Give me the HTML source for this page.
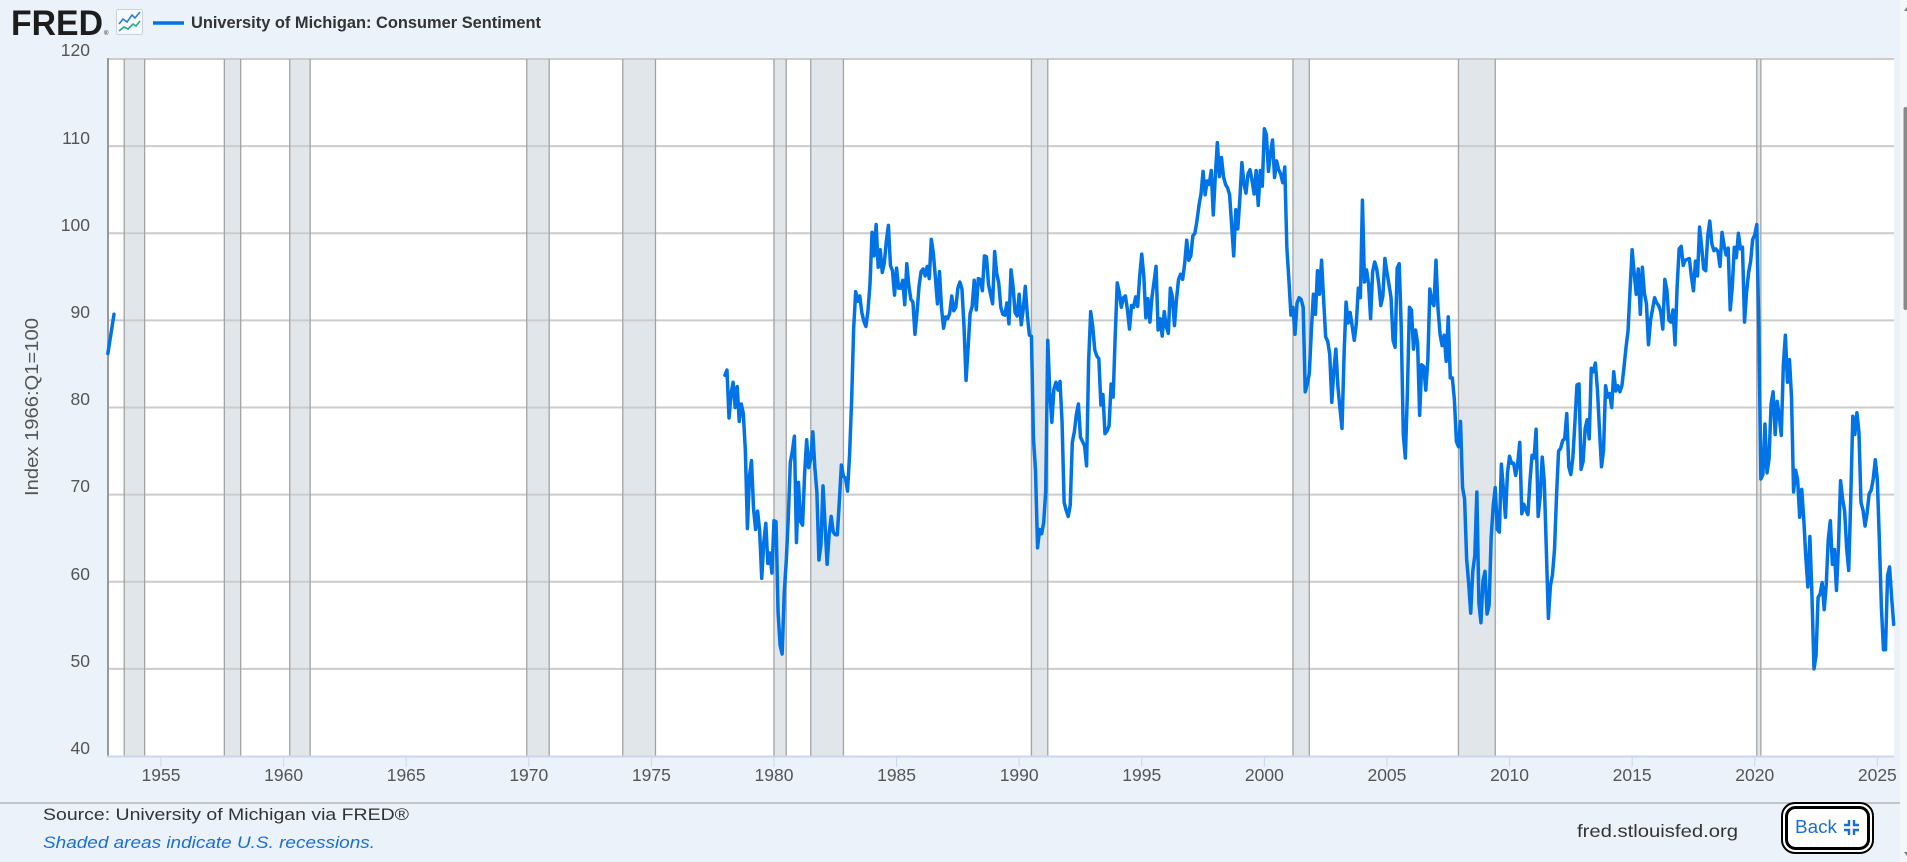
<!DOCTYPE html>
<html>
<head>
<meta charset="utf-8">
<style>
  html,body{margin:0;padding:0;background:#ebf2fa;}
  body{width:1907px;height:862px;overflow:hidden;font-family:"Liberation Sans",sans-serif;}
  svg{display:block;}
  .tk{font-family:"Liberation Sans",sans-serif;font-size:17.5px;fill:#555;}
</style>
</head>
<body>
<svg id="chart" width="1907" height="862" viewBox="0 0 1907 862" xmlns="http://www.w3.org/2000/svg">
  <rect x="0" y="0" width="1907" height="862" fill="#ebf2fa"/>

  <text x="11" y="35" font-family="Liberation Sans, sans-serif" font-weight="bold" font-size="35" fill="#1d1d1d" textLength="92" lengthAdjust="spacingAndGlyphs">FRED</text>
  <text x="104" y="35" font-family="Liberation Sans, sans-serif" font-size="6" fill="#1d1d1d">®</text>
  <rect x="116.5" y="9.5" width="26" height="25" rx="2" fill="#f7fafd" stroke="#c9d2dc" stroke-width="1"/>
  <polyline points="119,24 123,19 127,22 132,15 135,18 140,12" fill="none" stroke="#2a7de1" stroke-width="1.6"/>
  <polyline points="119,31 124,27 128,29 133,24 136,26 140,21" fill="none" stroke="#2aa88a" stroke-width="1.6"/>
  <line x1="153" y1="23" x2="184" y2="23" stroke="#0073e6" stroke-width="3.5"/>
  <text x="191" y="28" font-family="Liberation Sans, sans-serif" font-weight="bold" font-size="17" fill="#333" textLength="350" lengthAdjust="spacingAndGlyphs">University of Michigan: Consumer Sentiment</text>

  <rect x="108" y="59" width="1786" height="697" fill="#ffffff"/>
  <g id="bands"></g>
  <g id="grid" stroke="#cccccc" stroke-width="2"></g>
  <line x1="108" y1="58" x2="108" y2="757" stroke="#9a9a9a" stroke-width="2"/>
  <line x1="107" y1="756.5" x2="1894" y2="756.5" stroke="#ccd6eb" stroke-width="2"/>
  <g id="ticks"></g>
  <g id="series"></g>

  <g class="tk" text-anchor="end">
    <text x="90" y="56">120</text>
    <text x="90" y="144">110</text>
    <text x="90" y="231">100</text>
    <text x="90" y="318">90</text>
    <text x="90" y="405">80</text>
    <text x="90" y="492">70</text>
    <text x="90" y="580">60</text>
    <text x="90" y="667">50</text>
    <text x="90" y="754">40</text>
  </g>
  <text transform="translate(38,407) rotate(-90)" text-anchor="middle" font-family="Liberation Sans, sans-serif" font-size="18" fill="#555" textLength="178" lengthAdjust="spacingAndGlyphs">Index 1966:Q1=100</text>

  <g id="xlabels" class="tk" text-anchor="middle"></g>

  <line x1="0" y1="803" x2="1900" y2="803" stroke="#9a9a9a" stroke-width="1"/>
  <text x="43" y="820" font-family="Liberation Sans, sans-serif" font-size="17" fill="#333" textLength="366" lengthAdjust="spacingAndGlyphs">Source: University of Michigan via FRED®</text>
  <text x="43" y="848" font-family="Liberation Sans, sans-serif" font-style="italic" font-size="17" fill="#1a6fd1" textLength="332" lengthAdjust="spacingAndGlyphs">Shaded areas indicate U.S. recessions.</text>
  <text x="1577" y="837" font-family="Liberation Sans, sans-serif" font-size="17.5" fill="#333" textLength="161" lengthAdjust="spacingAndGlyphs">fred.stlouisfed.org</text>

  <rect x="1782" y="803" width="91" height="50" rx="13" fill="#ffffff" stroke="#000" stroke-width="2"/>
  <rect x="1786.5" y="807.5" width="82" height="41" rx="9" fill="#ffffff" stroke="#000" stroke-width="3"/>
  <text x="1795" y="833" font-family="Liberation Sans, sans-serif" font-size="18" fill="#1a6fd1" textLength="42" lengthAdjust="spacingAndGlyphs">Back</text>
  <g fill="none" stroke="#1a6fd1" stroke-width="2.4">
    <polyline points="1844,825 1849,825 1849,820"/>
    <polyline points="1854,820 1854,825 1859,825"/>
    <polyline points="1844,830 1849,830 1849,835"/>
    <polyline points="1854,835 1854,830 1859,830"/>
  </g>

  <rect x="1900" y="0" width="7" height="862" fill="#f4f7fa"/>
  <rect x="1903.5" y="107" width="4" height="203" rx="2" fill="#8a8a8a"/>
  <polygon points="1904,11 1907,7 1907,11" fill="#777"/>
  <polygon points="1904,852 1907,856 1907,852" fill="#777"/>
</svg>

<script>
(function(){
  var NS="http://www.w3.org/2000/svg";
  function X(t){return 161+(t-1955)*24.519;}
  function Y(v){return 59+(120-v)*8.7125;}
  function el(tag,attrs,parent){var e=document.createElementNS(NS,tag);for(var k in attrs)e.setAttribute(k,attrs[k]);parent.appendChild(e);return e;}

  var rec=[[1953.5,1954.333],[1957.583,1958.25],[1960.25,1961.083],[1969.917,1970.833],[1973.833,1975.167],[1980.0,1980.5],[1981.5,1982.833],[1990.5,1991.167],[2001.167,2001.833],[2007.917,2009.417],[2020.083,2020.25]];
  var bands=document.getElementById('bands');
  rec.forEach(function(r){
    var x1=X(r[0]),x2=X(r[1]);
    el('rect',{x:x1,y:59,width:x2-x1,height:697,fill:'#e1e6eb'},bands);
  });

  var grid=document.getElementById('grid');
  [120,110,100,90,80,70,60,50].forEach(function(v){
    el('line',{x1:108,y1:Y(v),x2:1894,y2:Y(v)},grid);
  });
  rec.forEach(function(r){
    [X(r[0]),X(r[1])].forEach(function(x){
      el('line',{x1:x,y1:59,x2:x,y2:756,stroke:'#a3a3a3','stroke-width':1.3},grid);
    });
  });

  var ticks=document.getElementById('ticks'),xl=document.getElementById('xlabels');
  for(var yr=1955;yr<=2025;yr+=5){
    var x=X(yr);
    el('line',{x1:x,y1:757,x2:x,y2:767,stroke:'#ccd6eb','stroke-width':1},ticks);
    var t=el('text',{x:x,y:781},xl);t.textContent=String(yr);
  }

  var d=[
  83.7,84.3,78.8,81.6,82.9,80.0,82.4,78.4,80.4,79.3,75.0,66.1,
  72.1,73.9,68.4,66.0,68.1,65.8,60.4,64.5,66.7,62.1,63.3,61.0,
  67.0,66.9,56.5,52.7,51.7,58.7,62.3,67.3,73.7,75.0,76.7,64.5,
  71.4,66.9,66.5,72.4,76.3,73.1,74.1,77.2,73.1,70.3,62.5,64.3,
  71.0,66.5,62.0,65.5,67.5,65.7,65.4,65.4,69.3,73.4,72.1,71.9,
  70.4,74.6,80.8,89.1,93.3,92.2,92.8,90.9,89.9,89.3,91.1,94.2,
  100.1,97.4,101.0,96.1,98.1,95.5,96.6,99.1,100.9,96.3,95.7,92.9,
  96.0,93.7,93.7,94.6,91.8,96.5,94.0,92.4,92.1,88.4,90.9,93.9,
  95.6,95.9,95.1,96.2,94.8,99.3,97.7,94.9,91.9,95.6,91.4,89.1,
  90.4,90.2,90.8,92.8,91.1,91.5,93.7,94.4,93.6,89.3,83.1,86.8,
  90.8,91.6,94.6,91.2,94.8,94.7,93.4,97.4,97.3,94.1,93.0,91.9,
  97.9,95.4,94.3,91.5,90.7,90.6,92.0,89.6,95.8,93.9,90.9,90.5,
  93.0,89.5,91.3,93.9,90.6,88.3,88.2,76.4,72.8,63.9,66.0,65.5,
  66.8,70.4,87.7,81.8,78.3,82.1,82.9,82.0,83.0,78.3,69.1,68.2,
  67.5,68.8,76.0,77.2,79.2,80.4,76.6,76.1,75.6,73.3,85.3,91.0,
  89.3,86.6,85.9,85.6,80.3,81.5,77.0,77.3,77.9,82.7,81.2,88.2,
  94.3,93.2,91.5,92.6,92.8,91.2,89.0,91.7,91.5,92.7,91.6,95.1,
  97.6,95.1,90.3,92.5,89.8,92.7,94.4,96.2,88.9,90.2,88.2,91.0,
  89.3,88.5,93.7,92.7,89.4,92.4,94.7,95.3,94.7,96.5,99.2,96.9,
  97.4,99.7,100.0,101.4,103.2,104.5,107.1,104.4,106.0,105.6,107.2,102.1,
  106.6,110.4,106.5,108.7,106.5,105.6,105.2,104.4,100.9,97.4,102.7,100.5,
  103.9,108.1,105.7,104.6,106.8,107.3,106.0,104.5,107.2,103.2,107.2,105.4,
  112.0,111.3,107.1,109.2,110.7,106.4,108.3,107.3,106.8,105.8,107.6,98.4,
  94.7,90.6,91.5,88.4,92.0,92.6,92.4,91.5,81.8,82.7,83.9,88.8,
  93.0,90.7,95.7,93.0,96.9,92.4,88.1,87.6,86.1,80.6,84.2,86.7,
  82.4,79.9,77.6,86.0,92.1,89.7,90.9,89.3,87.7,89.6,93.7,92.6,
  103.8,94.4,95.8,94.2,90.2,95.6,96.7,95.9,94.2,91.7,92.8,97.1,
  95.5,94.1,92.6,87.7,86.9,96.0,96.5,89.1,76.9,74.2,81.6,91.5,
  91.2,86.7,88.9,87.4,79.1,84.9,84.7,82.0,85.4,93.6,92.1,91.7,
  96.9,91.3,88.4,87.1,88.3,85.3,90.4,83.4,83.4,80.9,76.1,75.5,
  78.4,70.8,69.5,62.6,59.8,56.4,61.2,63.0,70.3,57.6,55.3,60.1,
  61.2,56.3,57.3,65.1,68.7,70.8,66.0,65.7,73.5,70.6,67.4,72.5,
  74.4,73.6,73.6,72.2,73.6,76.0,67.8,68.9,68.2,67.7,71.6,74.5,
  74.2,77.5,67.5,69.8,74.3,71.5,63.7,55.8,59.5,60.8,63.7,69.9,
  75.0,75.3,76.2,76.4,79.3,73.2,72.3,74.3,78.3,82.6,82.7,72.9,
  73.8,77.6,78.6,76.4,84.5,84.1,85.1,82.1,77.5,73.2,75.1,82.5,
  81.2,81.6,80.0,84.1,81.9,82.5,81.8,82.5,84.6,86.9,88.8,93.6,
  98.1,95.4,93.0,95.9,90.7,96.1,93.1,91.9,87.2,90.0,91.3,92.6,
  92.0,91.7,91.0,89.0,94.7,93.5,90.0,89.8,91.2,87.2,93.8,98.2,
  98.5,96.3,96.9,97.0,97.1,95.0,93.4,96.8,95.1,100.7,98.5,95.9,
  95.7,99.7,101.4,98.8,98.0,98.2,97.9,96.2,100.1,98.6,97.5,98.3,
  91.2,93.8,98.4,97.2,100.0,98.2,98.4,89.8,93.2,95.5,96.8,99.3,
  99.8,101.0,89.1,71.8,72.3,78.1,72.5,74.1,80.4,81.8,76.9,80.7,
  79.0,76.8,84.9,88.3,82.9,85.5,81.2,70.3,72.8,71.7,67.4,70.6,
  67.2,62.8,59.4,65.2,58.4,50.0,51.5,58.2,58.6,59.9,56.8,59.7,
  64.9,67.0,62.0,63.7,59.0,64.2,71.6,69.5,68.1,63.8,61.3,69.7,
  79.0,76.9,79.4,77.2,69.1,68.2,66.4,67.9,70.1,70.5,71.8,74.0,
  71.7,64.7,57.0,52.2,52.2,60.7,61.7,58.2,55.1
  ];
  var p='M'+X(1952.833).toFixed(2)+','+Y(86.2).toFixed(2)+'L'+X(1953.083).toFixed(2)+','+Y(90.7).toFixed(2);
  for(var i=0;i<d.length;i++){
    var t=1978+i/12;
    p+=(i===0?'M':'L')+X(t).toFixed(2)+','+Y(d[i]).toFixed(2);
  }
  el('path',{d:p,fill:'none',stroke:'#0073e6','stroke-width':3.5,'stroke-linejoin':'round','stroke-linecap':'round'},document.getElementById('series'));
})();
</script>
</body>
</html>
